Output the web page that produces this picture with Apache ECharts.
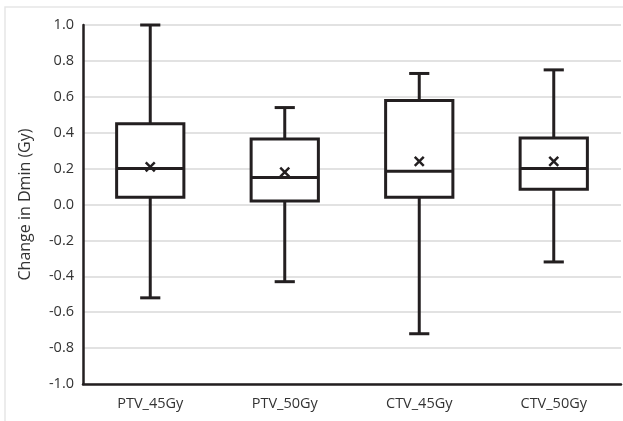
<!DOCTYPE html>
<html>
<head>
<meta charset="utf-8">
<script src="https://cdn.jsdelivr.net/npm/echarts@6/dist/echarts.min.js"></script>
<style>
  html, body { margin: 0; padding: 0; background: #fff; }
  #chart { width: 623px; height: 421px; }
</style>
</head>
<body>
<div id="chart"></div>
<script>
// data
const categories = ['PTV_45Gy', 'PTV_50Gy', 'CTV_45Gy', 'CTV_50Gy'];
const whiskerLow = [-0.52, -0.43, -0.72, -0.32];
const q1 = [0.04, 0.02, 0.04, 0.085];
const median = [0.20, 0.15, 0.185, 0.20];
const q3 = [0.45, 0.365, 0.58, 0.37];
const whiskerHigh = [1.0, 0.54, 0.73, 0.75];
const mean = [0.21, 0.18, 0.24, 0.24];

const dark = '#231f20';
const textColor = '#333';
const font = 'Open Sans';

const chart = echarts.init(document.getElementById('chart'));

const boxData = categories.map((c, i) => [i, whiskerLow[i], q1[i], median[i], q3[i], whiskerHigh[i]]);
const meanData = categories.map((c, i) => [i, mean[i]]);

function renderBox(params, api) {
  const idx = api.value(0);
  const band = api.size([1, 0])[0];
  const half = band * 0.25;
  const cap = band * 0.075;
  const pLow = api.coord([idx, api.value(1)]);
  const pQ1 = api.coord([idx, api.value(2)]);
  const pMed = api.coord([idx, api.value(3)]);
  const pQ3 = api.coord([idx, api.value(4)]);
  const pHigh = api.coord([idx, api.value(5)]);
  const x = pQ1[0];
  const st = { stroke: dark, lineWidth: 3, fill: null };
  return {
    type: 'group',
    children: [
      { type: 'line', shape: { x1: x, y1: pHigh[1], x2: x, y2: pQ3[1] }, style: st },
      { type: 'line', shape: { x1: x, y1: pQ1[1], x2: x, y2: pLow[1] }, style: st },
      { type: 'line', shape: { x1: x - cap, y1: pHigh[1], x2: x + cap, y2: pHigh[1] }, style: st },
      { type: 'line', shape: { x1: x - cap, y1: pLow[1], x2: x + cap, y2: pLow[1] }, style: st },
      { type: 'rect', shape: { x: x - half, y: pQ3[1], width: half * 2, height: pQ1[1] - pQ3[1] },
        style: { stroke: dark, lineWidth: 3, fill: '#fff' } },
      { type: 'line', shape: { x1: x - half, y1: pMed[1], x2: x + half, y2: pMed[1] }, style: st }
    ]
  };
}

function renderMean(params, api) {
  const p = api.coord([api.value(0), api.value(1)]);
  const s = 4.5;
  const st = { stroke: dark, lineWidth: 2.5 };
  return {
    type: 'group',
    children: [
      { type: 'line', shape: { x1: p[0] - s, y1: p[1] - s, x2: p[0] + s, y2: p[1] + s }, style: st },
      { type: 'line', shape: { x1: p[0] - s, y1: p[1] + s, x2: p[0] + s, y2: p[1] - s }, style: st }
    ]
  };
}

const option = {
  animation: false,
  backgroundColor: '#fff',
  textStyle: { fontFamily: font },
  graphic: [{
    type: 'polyline',
    shape: { points: [[5, 421], [5, 7], [623, 7]] },
    style: { stroke: '#e6e6e6', lineWidth: 1.5, fill: null }
  }],
  grid: { left: 83, right: 2, top: 25, bottom: 37 },
  xAxis: {
    type: 'category',
    data: categories,
    axisLine: { onZero: false, lineStyle: { color: dark, width: 2.5 } },
    axisTick: { show: false },
    axisLabel: { color: textColor, fontSize: 14.5, margin: 12, fontFamily: font }
  },
  yAxis: {
    type: 'value',
    min: -1,
    max: 1,
    interval: 0.2,
    name: 'Change in Dmin (Gy)',
    nameLocation: 'middle',
    nameGap: 50,
    nameTextStyle: { color: textColor, fontSize: 16, fontFamily: font },
    axisLine: { show: true, lineStyle: { color: dark, width: 2.5 } },
    axisTick: { show: false },
    axisLabel: {
      color: textColor, fontSize: 14.5, margin: 9, fontFamily: font,
      formatter: v => v.toFixed(1)
    },
    splitLine: { lineStyle: { color: '#d9d9d9', width: 1.5 } }
  },
  series: [
    { type: 'custom', renderItem: renderBox, data: boxData, encode: { x: 0, y: [1, 2, 3, 4, 5] } },
    { type: 'custom', renderItem: renderMean, data: meanData, encode: { x: 0, y: 1 }, z: 5 }
  ]
};

chart.setOption(option);
</script>
</body>
</html>
